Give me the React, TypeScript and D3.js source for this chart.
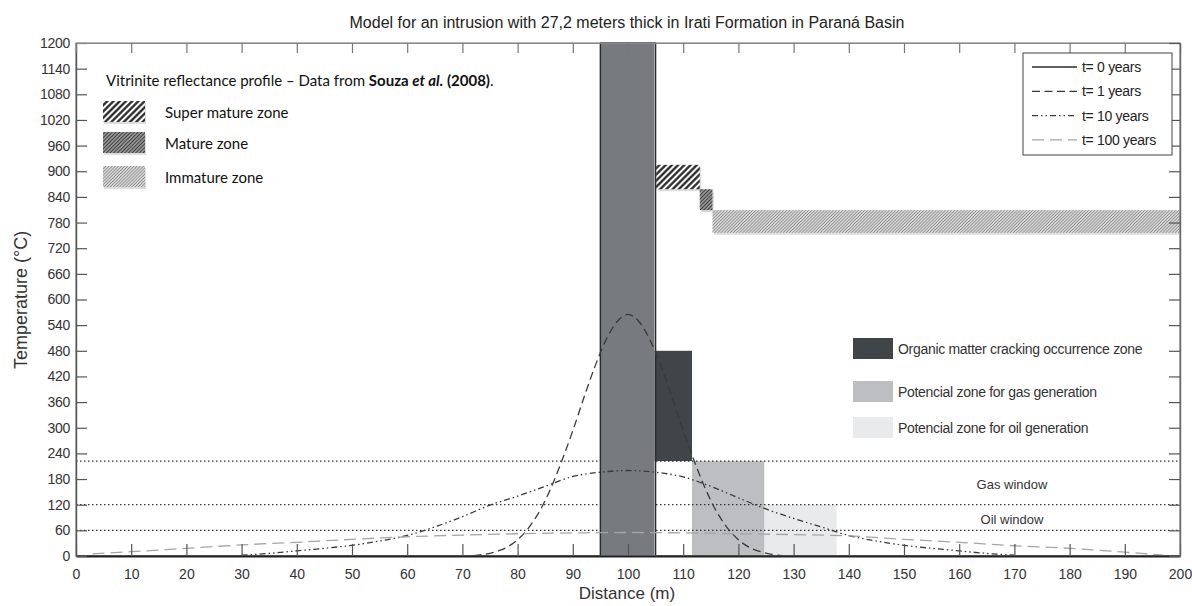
import { useEffect, useRef } from 'react'
import * as d3 from 'd3'

// temperature profiles (distance m, temperature °C)
const t0Dist = [0, 95, 95, 105, 105, 200]
const t0Temp = [0, 0, 1200, 1200, 0, 0]

const t1Dist = [72, 74, 76, 78, 80, 82, 84, 86, 88, 90, 92, 94, 96, 98, 100, 102, 104, 106, 108, 110, 112, 114, 116, 118, 120, 122, 124, 126, 128]
const t1Temp = [1, 4, 10, 20, 38, 66, 105, 158, 222, 293, 370, 443, 505, 548, 565, 548, 505, 443, 370, 293, 222, 158, 105, 66, 38, 20, 10, 4, 1]

const t10Dist = [30, 35, 40, 45, 50, 55, 60, 65, 70, 75, 80, 85, 90, 95, 100, 105, 110, 115, 120, 125, 130, 135, 140, 145, 150, 155, 160, 165, 170]
const t10Temp = [2, 6, 12, 18, 25, 35, 48, 68, 92, 119, 140, 163, 186, 196, 200, 196, 185, 163, 136, 110, 88, 68, 48, 35, 25, 18, 12, 6, 2]

const t100Dist = [3, 10, 20, 30, 40, 50, 60, 70, 80, 90, 100, 110, 120, 130, 140, 150, 160, 170, 180, 190, 197]
const t100Temp = [5, 10, 18, 26, 32, 39, 45, 49, 52, 54, 55, 54, 52, 50, 47, 39, 32, 24, 18, 9, 2]

// zones: [x0, x1, t0, t1]
const intrusionZone = [94.9, 104.8, 0, 1200]
const crackingZone = [104.8, 111.6, 222, 480]
const gasZone = [111.6, 124.7, 0, 222]
const oilZone = [124.7, 137.8, 0, 120]
const superMatureZone = [105.1, 113, 858, 915]
const matureZone = [113, 115.3, 809, 858]
const immatureZone = [115.3, 200, 756, 809]

const windowLines = [60, 120, 222]
const xTicks = d3.range(0, 201, 10)
const yTicks = d3.range(0, 1201, 60)

const seriesNames = ['t= 0 years', 't= 1 years', 't= 10 years', 't= 100 years']

export default function App() {
  const svgRef = useRef<SVGSVGElement>(null)
  const width = 1192
  const height = 606

  useEffect(() => {
    if (!svgRef.current) return
    const svg = d3.select(svgRef.current)
    svg.selectAll('*').remove()

    const x = d3.scaleLinear().domain([0, 200]).range([76, 1180])
    const y = d3.scaleLinear().domain([0, 1200]).range([556, 43])
    const font = "'Liberation Sans', Arial, sans-serif"

    // hatch patterns
    const defs = svg.append('defs')
    const hatch = (id: string, size: number, sw: number, color: string, bg: string) => {
      const p = defs
        .append('pattern')
        .attr('id', id)
        .attr('patternUnits', 'userSpaceOnUse')
        .attr('width', size)
        .attr('height', size)
        .attr('patternTransform', 'rotate(45)')
      p.append('rect').attr('width', size).attr('height', size).attr('fill', bg)
      p.append('line')
        .attr('x1', size / 2)
        .attr('x2', size / 2)
        .attr('y1', 0)
        .attr('y2', size)
        .attr('stroke', color)
        .attr('stroke-width', sw)
    }
    hatch('h-super', 4.4, 2.2, '#1e1e1e', '#fff')
    hatch('h-mature', 2.6, 1.4, '#3a3a3a', '#bbb')
    hatch('h-immature', 2.2, 1.0, '#8a8a8a', '#e6e6e6')

    const zoneRect = (z: number[], fill: string) =>
      svg
        .append('rect')
        .attr('x', x(z[0]))
        .attr('y', y(z[3]))
        .attr('width', x(z[1]) - x(z[0]))
        .attr('height', y(z[2]) - y(z[3]))
        .attr('fill', fill)

    zoneRect(oilZone, '#e9eaeb')
    zoneRect(gasZone, '#bdbec1')
    zoneRect(crackingZone, '#3f4548')

    // oil / gas window lines
    svg
      .selectAll('.win')
      .data(windowLines)
      .enter()
      .append('line')
      .attr('x1', x(0))
      .attr('x2', x(200))
      .attr('y1', (d) => y(d))
      .attr('y2', (d) => y(d))
      .attr('stroke', '#333')
      .attr('stroke-width', 1.2)
      .attr('stroke-dasharray', '1.5,2.5')

    zoneRect(intrusionZone, '#777b7f')

    // vitrinite hatches with soft shadow
    ;[
      [superMatureZone, 'url(#h-super)'],
      [matureZone, 'url(#h-mature)'],
      [immatureZone, 'url(#h-immature)'],
    ].forEach(([z, f]) => {
      const zz = z as number[]
      svg
        .append('rect')
        .attr('x', x(zz[0]) + 1.5)
        .attr('y', y(zz[3]) + 2)
        .attr('width', Math.min(x(zz[1]) - x(zz[0]), x(200) - x(zz[0]) - 1.5))
        .attr('height', y(zz[2]) - y(zz[3]))
        .attr('fill', '#ddd')
      zoneRect(zz, f as string)
    })

    // curves
    const line = d3
      .line<[number, number]>()
      .x((d) => x(d[0]))
      .y((d) => y(d[1]))
    const zip = (a: number[], b: number[]) => a.map((v, i) => [v, b[i]] as [number, number])

    const styles = [
      { stroke: '#2b2b2b', dash: '', width: 1.4 },
      { stroke: '#3a3a3a', dash: '8,4.5', width: 1.3 },
      { stroke: '#3a3a3a', dash: '6,3,1.5,3,1.5,3', width: 1.3 },
      { stroke: '#a5a5a5', dash: '12,6', width: 1.3 },
    ]

    svg
      .append('path')
      .attr('d', line(zip(t0Dist, t0Temp)))
      .attr('fill', 'none')
      .attr('stroke', styles[0].stroke)
      .attr('stroke-width', styles[0].width)

    const curves: [number[], number[]][] = [
      [t1Dist, t1Temp],
      [t10Dist, t10Temp],
      [t100Dist, t100Temp],
    ]
    curves.forEach(([xs, ts], i) => {
      const s = styles[i + 1]
      svg
        .append('path')
        .attr('d', line.curve(d3.curveMonotoneX)(zip(xs, ts)))
        .attr('fill', 'none')
        .attr('stroke', s.stroke)
        .attr('stroke-width', s.width)
        .attr('stroke-dasharray', s.dash)
    })

    // frame and ticks
    const axisColor = '#555'
    svg
      .append('rect')
      .attr('x', x(0))
      .attr('y', y(1200))
      .attr('width', x(200) - x(0))
      .attr('height', y(0) - y(1200))
      .attr('fill', 'none')
      .attr('stroke', '#888')
      .attr('stroke-width', 1.2)

    const bottom = svg.append('g').attr('transform', `translate(0,${y(0)})`)
    bottom.call(d3.axisBottom(x).tickValues(xTicks).tickSizeInner(-12).tickSizeOuter(0).tickPadding(8))
    bottom.select('.domain').attr('stroke', '#222').attr('stroke-width', 2.2)
    bottom.selectAll('.tick line').attr('stroke', axisColor).attr('stroke-width', 1.2)
    bottom
      .selectAll('text')
      .attr('fill', '#333')
      .attr('font-size', 14)
      .attr('font-family', font)
      .attr('dy', '1.05em')

    const left = svg.append('g').attr('transform', `translate(${x(0)},0)`)
    left.call(
      d3.axisLeft(y).tickValues(yTicks).tickSizeInner(-11).tickSizeOuter(0).tickPadding(6).tickFormat(d3.format('d'))
    )
    left.select('.domain').attr('stroke', axisColor).attr('stroke-width', 1.4)
    left.selectAll('.tick line').attr('stroke', axisColor).attr('stroke-width', 1.2)
    left
      .selectAll('text')
      .attr('fill', '#333')
      .attr('font-size', 14)
      .attr('font-family', font)
      .attr('letter-spacing', -0.3)

    const top = svg.append('g').attr('transform', `translate(0,${y(1200)})`)
    top.call(d3.axisTop(x).tickValues(xTicks).tickSizeInner(-10).tickSizeOuter(0).tickFormat(() => ''))
    top.select('.domain').attr('stroke', '#888')
    top.selectAll('.tick line').attr('stroke', '#777').attr('stroke-width', 1.2)

    const right = svg.append('g').attr('transform', `translate(${x(200)},0)`)
    right.call(d3.axisRight(y).tickValues(yTicks).tickSizeInner(-11).tickSizeOuter(0).tickFormat(() => ''))
    right.select('.domain').attr('stroke', '#666').attr('stroke-width', 1.4)
    right.selectAll('.tick line').attr('stroke', axisColor).attr('stroke-width', 1.2)

    // titles
    svg
      .append('text')
      .attr('x', 627)
      .attr('y', 28)
      .attr('text-anchor', 'middle')
      .attr('font-family', font)
      .attr('font-size', 16)
      .attr('fill', '#222')
      .text('Model for an intrusion with 27,2 meters thick in Irati Formation in Paraná Basin')

    svg
      .append('text')
      .attr('x', 627)
      .attr('y', 599)
      .attr('text-anchor', 'middle')
      .attr('font-family', font)
      .attr('font-size', 17)
      .attr('fill', '#333')
      .text('Distance (m)')

    svg
      .append('text')
      .attr('transform', 'translate(27,300) rotate(-90)')
      .attr('text-anchor', 'middle')
      .attr('font-family', font)
      .attr('font-size', 18)
      .attr('fill', '#333')
      .text('Temperature (°C)')

    // vitrinite legend (top left)
    const calib = 'Lato, Open Sans, sans-serif'
    const vt = svg
      .append('text')
      .attr('x', 106)
      .attr('y', 86)
      .attr('font-family', calib)
      .attr('font-size', 15)
      .attr('fill', '#111')
    vt.append('tspan').text('Vitrinite reflectance profile – Data from ')
    vt.append('tspan').attr('font-weight', 'bold').text('Souza ')
    vt.append('tspan').attr('font-weight', 'bold').attr('font-style', 'italic').text('et al.')
    vt.append('tspan').attr('font-weight', 'bold').text(' (2008)')
    vt.append('tspan').text('.')

    const vitLegend = [
      { label: 'Super mature zone', fill: 'url(#h-super)', y0: 101 },
      { label: 'Mature zone', fill: 'url(#h-mature)', y0: 132 },
      { label: 'Immature zone', fill: 'url(#h-immature)', y0: 166 },
    ]
    vitLegend.forEach((d) => {
      svg.append('rect').attr('x', 104).attr('y', d.y0 + 2).attr('width', 42).attr('height', 21).attr('fill', '#ddd')
      svg.append('rect').attr('x', 103).attr('y', d.y0).attr('width', 42).attr('height', 21).attr('fill', d.fill)
      svg
        .append('text')
        .attr('x', 165)
        .attr('y', d.y0 + 17)
        .attr('font-family', calib)
        .attr('font-size', 15)
        .attr('fill', '#111')
        .text(d.label)
    })

    // time legend (top right)
    svg
      .append('rect')
      .attr('x', 1023)
      .attr('y', 53)
      .attr('width', 149)
      .attr('height', 102)
      .attr('fill', '#fff')
      .attr('stroke', '#444')
      .attr('stroke-width', 1)
    seriesNames.forEach((name, i) => {
      const cy = 67 + i * 24.3
      const s = styles[i]
      svg
        .append('line')
        .attr('x1', 1032)
        .attr('x2', 1077)
        .attr('y1', cy)
        .attr('y2', cy)
        .attr('stroke', s.stroke)
        .attr('stroke-width', s.width)
        .attr('stroke-dasharray', s.dash)
      svg
        .append('text')
        .attr('x', 1082)
        .attr('y', cy + 5)
        .attr('font-family', font)
        .attr('font-size', 14)
        .attr('fill', '#222')
        .attr('letter-spacing', -0.3)
        .text(name)
    })

    // zone legend (right)
    const zoneLegend = [
      { label: 'Organic matter cracking occurrence zone', fill: '#3f4548', y0: 338 },
      { label: 'Potencial zone for gas generation', fill: '#bdbec1', y0: 381 },
      { label: 'Potencial zone for oil generation', fill: '#e9eaeb', y0: 417 },
    ]
    zoneLegend.forEach((d) => {
      svg.append('rect').attr('x', 853).attr('y', d.y0).attr('width', 40).attr('height', 21).attr('fill', d.fill)
      svg
        .append('text')
        .attr('x', 898)
        .attr('y', d.y0 + 16)
        .attr('font-family', font)
        .attr('font-size', 14)
        .attr('fill', '#333')
        .attr('letter-spacing', -0.3)
        .text(d.label)
    })

    // window labels
    ;[
      ['Gas window', 489],
      ['Oil window', 524],
    ].forEach(([t, yy]) => {
      svg
        .append('text')
        .attr('x', 1012)
        .attr('y', yy as number)
        .attr('text-anchor', 'middle')
        .attr('font-family', font)
        .attr('font-size', 13)
        .attr('fill', '#333')
        .text(t as string)
    })
  }, [])

  return (
    <svg
      ref={svgRef}
      width={width}
      height={height}
      style={{ position: 'absolute', left: 0, top: 0, background: '#fff' }}
    />
  )
}
